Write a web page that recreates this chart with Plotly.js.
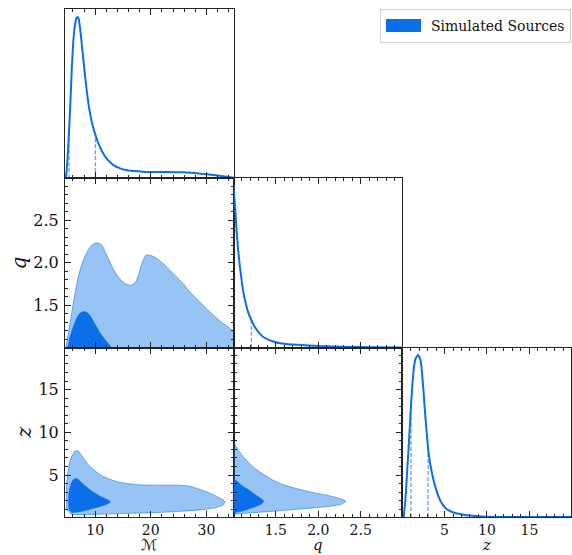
<!DOCTYPE html>
<html><head><meta charset="utf-8">
<script src="https://cdn.plot.ly/plotly-3.0.1.min.js"></script>
<style>html,body{margin:0;padding:0;background:#fff}#chart{width:572px;height:555px}</style>
</head><body><div id="chart"></div>
<script>
// ---- 1D marginal densities (relative units, peak ~1) ----
const M_grid = [4.71, 4.89, 5.19, 5.49, 5.79, 6.09, 6.39, 6.62, 6.82, 7.02, 7.30, 7.60, 7.90, 8.20, 8.50, 8.80, 9.10, 9.40, 9.70, 10.0, 10.6, 11.2, 12.0, 12.7, 13.3, 14.5, 15.5, 16.9, 18.5, 19.9, 22.9, 25.9, 28.9, 32.0, 35.0];
const M_density = [0, 0.05, 0.216, 0.423, 0.672, 0.859, 0.955, 0.993, 1.0, 0.99, 0.93, 0.83, 0.73, 0.63, 0.54, 0.46, 0.40, 0.35, 0.31, 0.275, 0.215, 0.17, 0.125, 0.10, 0.082, 0.062, 0.052, 0.046, 0.041, 0.039, 0.039, 0.037, 0.029, 0.017, 0.004];
const M_quantiles = [5.30, 10.05];

const q_grid = [1.0, 1.008, 1.024, 1.039, 1.055, 1.075, 1.095, 1.114, 1.142, 1.173, 1.213, 1.252, 1.311, 1.370, 1.489, 1.646, 1.843, 2.02, 2.3, 2.6, 2.99];
const q_density = [1.01, 0.96, 0.846, 0.721, 0.617, 0.513, 0.430, 0.357, 0.285, 0.222, 0.170, 0.129, 0.087, 0.060, 0.035, 0.021, 0.015, 0.010, 0.006, 0.003, 0.001];
const q_quantiles = [1.213];

const z_grid = [0.19, 0.39, 0.58, 0.78, 0.98, 1.17, 1.37, 1.56, 1.88, 2.15, 2.35, 2.54, 2.74, 2.94, 3.13, 3.53, 3.92, 4.31, 4.70, 5.09, 5.88, 7.06, 9.02, 10.98, 20.0];
const z_density = [0, 0.104, 0.270, 0.437, 0.624, 0.790, 0.915, 0.978, 1.005, 0.978, 0.894, 0.770, 0.624, 0.499, 0.395, 0.270, 0.187, 0.125, 0.083, 0.056, 0.031, 0.015, 0.004, 0, 0];
const z_quantiles = [1.05, 3.06];

// ---- 2D credible region outlines ----
// q vs M
const qM_outer_M = [4.71, 5.19, 5.79, 6.39, 7.00, 7.60, 8.20, 8.81, 9.41, 10.01, 10.61, 11.22, 11.82, 12.42, 13.02, 13.63, 14.53, 15.44, 16.34, 16.94, 17.37, 17.85, 18.33, 18.75, 19.17, 19.96, 20.86, 22.07, 23.27, 24.48, 25.69, 26.89, 28.09, 29.30, 30.51, 31.71, 32.92, 34.12, 35.03, 35.03, 4.6];
const qM_outer_q = [0.99, 1.173, 1.410, 1.646, 1.843, 1.981, 2.080, 2.158, 2.206, 2.229, 2.229, 2.206, 2.127, 2.040, 1.961, 1.883, 1.804, 1.753, 1.733, 1.753, 1.784, 1.863, 1.981, 2.048, 2.091, 2.087, 2.060, 2.001, 1.922, 1.843, 1.764, 1.666, 1.587, 1.508, 1.429, 1.359, 1.292, 1.233, 1.173, 0.98, 0.98];
const qM_inner_M = [5.0, 5.49, 6.09, 6.70, 7.30, 7.90, 8.50, 9.11, 9.71, 10.31, 10.91, 11.82, 12.72, 12.90];
const qM_inner_q = [0.98, 1.134, 1.252, 1.351, 1.410, 1.429, 1.418, 1.378, 1.311, 1.244, 1.173, 1.095, 1.024, 0.98];

// z vs M
const zM_outer_M = [4.89, 4.83, 4.95, 5.31, 5.79, 6.39, 6.88, 7.30, 7.90, 8.81, 10.01, 11.22, 13.02, 14.83, 17.24, 19.66, 22.07, 25.08, 26.89, 28.70, 30.51, 32.01, 32.92, 33.34, 32.92, 31.71, 29.30, 25.08, 20.86, 16.04, 11.82, 8.81, 6.39, 5.49];
const zM_outer_z = [0.88, 2.65, 4.61, 6.18, 7.16, 7.82, 7.82, 7.55, 6.96, 6.18, 5.47, 4.92, 4.41, 4.10, 3.90, 3.82, 3.82, 3.82, 3.71, 3.35, 2.92, 2.45, 2.14, 1.86, 1.47, 1.20, 0.96, 0.76, 0.61, 0.53, 0.45, 0.37, 0.37, 0.49];
const zM_inner_M = [5.31, 5.19, 5.31, 5.67, 6.09, 6.70, 7.30, 8.20, 9.41, 10.91, 12.42, 12.72, 12.12, 10.61, 8.81, 7.00, 5.79];
const zM_inner_z = [0.88, 1.86, 3.04, 4.02, 4.49, 4.61, 4.29, 3.74, 3.12, 2.53, 2.06, 1.86, 1.59, 1.27, 0.96, 0.69, 0.61];

// z vs q
const zq_outer_q = [0.98, 1.0, 1.032, 1.071, 1.130, 1.189, 1.268, 1.347, 1.465, 1.583, 1.741, 1.938, 2.135, 2.253, 2.324, 2.273, 2.135, 1.938, 1.741, 1.544, 1.347, 1.189, 1.071, 1.0, 0.98];
const zq_outer_z = [8.92, 8.92, 8.33, 7.74, 6.96, 6.37, 5.67, 5.12, 4.41, 3.90, 3.43, 2.96, 2.57, 2.26, 1.94, 1.59, 1.35, 1.16, 1.00, 0.84, 0.69, 0.57, 0.49, 0.41, 0.41];
const zq_inner_q = [0.98, 1.0, 1.051, 1.110, 1.189, 1.268, 1.327, 1.359, 1.327, 1.229, 1.110, 1.0, 0.98];
const zq_inner_z = [4.61, 4.61, 4.22, 3.71, 3.24, 2.65, 2.26, 1.94, 1.59, 1.20, 0.80, 0.57, 0.57];

// ---- labels ----
const legendLabel = 'Simulated Sources';
const labelM = 'ℳ', labelQ = 'q', labelZ = 'z';
const M_ticks = [10, 20, 30];
const q_ticks = [1.5, 2.0, 2.5];
const z_ticks = [5, 10, 15];
const M_range = [4.58, 34.9];
const q_range = [1.004, 2.99];
const z_range_x = [0.03, 19.9];
const z_range_y = [0.1, 19.9];
const d_range = [0, 1.05];

// ---- styling ----
const BLUE = '#0a6fe8';
const LIGHT_FILL = 'rgba(10,111,232,0.42)';
const LIGHT_EDGE = 'rgba(10,111,232,0.55)';
const DASH_COL = 'rgba(10,111,232,0.65)';
const FONT = 'DejaVu Serif, serif';

function interp(xs, ys, x) {
  for (let i = 0; i < xs.length - 1; i++) {
    if (x >= xs[i] && x <= xs[i+1]) {
      const t = (x - xs[i]) / (xs[i+1] - xs[i]);
      return ys[i] + t * (ys[i+1] - ys[i]);
    }
  }
  return 0;
}

const traces = [];
function density(xs, ys, quants, xa, ya) {
  traces.push({x: xs, y: ys, xaxis: xa, yaxis: ya, mode: 'lines', type: 'scatter',
    line: {color: BLUE, width: 2, shape: 'spline', smoothing: 0.4}, showlegend: false, hoverinfo: 'skip'});
  quants.forEach(v => {
    traces.push({x: [v, v], y: [0, interp(xs, ys, v)], xaxis: xa, yaxis: ya, mode: 'lines', type: 'scatter',
      line: {color: DASH_COL, width: 1.3, dash: '4px,2px'}, showlegend: false, hoverinfo: 'skip'});
  });
}
function region(xs, ys, xa, ya, inner, legend) {
  traces.push({x: xs, y: ys, xaxis: xa, yaxis: ya, mode: 'lines', type: 'scatter', fill: 'toself',
    fillcolor: inner ? BLUE : LIGHT_FILL,
    line: {color: inner ? BLUE : LIGHT_EDGE, width: inner ? 0.5 : 1, shape: 'spline', smoothing: 0.5},
    name: legendLabel, showlegend: !!legend, hoverinfo: 'skip'});
}

density(M_grid, M_density, M_quantiles, 'x', 'y');
region(qM_outer_M, qM_outer_q, 'x2', 'y2', false, false);
region(qM_inner_M, qM_inner_q, 'x2', 'y2', true, true);
density(q_grid, q_density, q_quantiles, 'x3', 'y3');
region(zM_outer_M, zM_outer_z, 'x4', 'y4', false, false);
region(zM_inner_M, zM_inner_z, 'x4', 'y4', true, false);
region(zq_outer_q, zq_outer_z, 'x5', 'y5', false, false);
region(zq_inner_q, zq_inner_z, 'x5', 'y5', true, false);
density(z_grid, z_density, z_quantiles, 'x6', 'y6');

const third = 1/3;
function axis(opts) {
  const a = {
    domain: opts.domain, anchor: opts.anchor, range: opts.range, autorange: false,
    showgrid: false, zeroline: false, showline: true, linecolor: '#222', linewidth: 1,
    mirror: opts.noticks ? true : 'allticks', fixedrange: true, automargin: false,
    ticks: opts.noticks ? '' : 'inside', ticklen: 6, tickwidth: 1, tickcolor: '#222',
    showticklabels: !!opts.labels,
    tickfont: {family: FONT, size: opts.fontSize || 16, color: '#111'},
    ticklabelstandoff: opts.standoffLabel !== undefined ? opts.standoffLabel : 2
  };
  if (!opts.noticks) {
    a.tickmode = 'array'; a.tickvals = opts.ticks; a.ticktext = opts.ticks.map(v => opts.fmt ? v.toFixed(1) : String(v));
    a.minor = {dtick: opts.minor, tick0: 0, ticks: 'inside', ticklen: 3, tickwidth: 1, tickcolor: '#222', showgrid: false};
  }
  if (opts.title) a.title = {text: opts.title, font: {family: FONT, size: 20, color: '#111', style: 'italic'}, standoff: opts.standoff || 4};
  return a;
}
const colD = [[0, third], [third, 2*third], [2*third, 1]];
const rowD = [[2*third, 1], [third, 2*third], [0, third]];

const xTitle = (text, xa, size, italic, family) => ({
  text: text, xref: xa + ' domain', x: 0.5, xanchor: 'center', yref: 'paper', y: 0, yanchor: 'bottom', yshift: -38,
  borderpad: 0, showarrow: false, font: {family: family || FONT, size: size, color: '#111', style: italic ? 'italic' : 'normal'}
});

const layout = {
  width: 572, height: 555,
  margin: {l: 65, r: 1, t: 9, b: 38},
  paper_bgcolor: '#fff', plot_bgcolor: '#fff',
  showlegend: true,
  legend: {x: 1, xanchor: 'right', y: 1, yanchor: 'top', bgcolor: '#fff', bordercolor: '#cfcfcf', borderwidth: 1,
    itemwidth: 40, font: {family: FONT, size: 14, color: '#111'}},
  xaxis: axis({domain: colD[0], anchor: 'y', range: M_range, ticks: M_ticks, minor: 2}),
  yaxis: axis({domain: rowD[0], anchor: 'x', range: d_range, noticks: true}),
  xaxis2: axis({domain: colD[0], anchor: 'y2', range: M_range, ticks: M_ticks, minor: 2}),
  yaxis2: axis({domain: rowD[1], anchor: 'x2', range: q_range, ticks: q_ticks, minor: 0.1, labels: true, fmt: true, title: labelQ, standoff: 1}),
  xaxis3: axis({domain: colD[1], anchor: 'y3', range: q_range, ticks: q_ticks, minor: 0.1, fmt: true}),
  yaxis3: axis({domain: rowD[1], anchor: 'x3', range: d_range, noticks: true}),
  xaxis4: axis({domain: colD[0], anchor: 'y4', range: M_range, ticks: M_ticks, minor: 2, labels: true, standoffLabel: 0, fontSize: 14}),
  yaxis4: axis({domain: rowD[2], anchor: 'x4', range: z_range_y, ticks: z_ticks, minor: 1, labels: true, title: labelZ, standoff: 1}),
  xaxis5: axis({domain: colD[1], anchor: 'y5', range: q_range, ticks: q_ticks, minor: 0.1, labels: true, fmt: true, standoffLabel: 0, fontSize: 14}),
  yaxis5: axis({domain: rowD[2], anchor: 'x5', range: z_range_y, ticks: z_ticks, minor: 1}),
  xaxis6: axis({domain: colD[2], anchor: 'y6', range: z_range_x, ticks: z_ticks, minor: 1, labels: true, standoffLabel: 0, fontSize: 14}),
  yaxis6: axis({domain: rowD[2], anchor: 'x6', range: d_range, noticks: true}),
  annotations: [
    xTitle(labelM, 'x4', 15, false, 'DejaVu Sans, DejaVu Serif, sans-serif'),
    xTitle(labelQ, 'x5', 15, true),
    xTitle(labelZ, 'x6', 15, true)
  ]
};

Plotly.newPlot('chart', traces, layout, {displayModeBar: false, staticPlot: true}).then(gd => {
  gd.querySelectorAll('.legendfill path').forEach(p => p.setAttribute('d', 'M5,-6.5h35v13h-35z'));
  gd.querySelectorAll('.legendlines path').forEach(p => p.setAttribute('d', 'M5,0h0'));
});
</script></body></html>
